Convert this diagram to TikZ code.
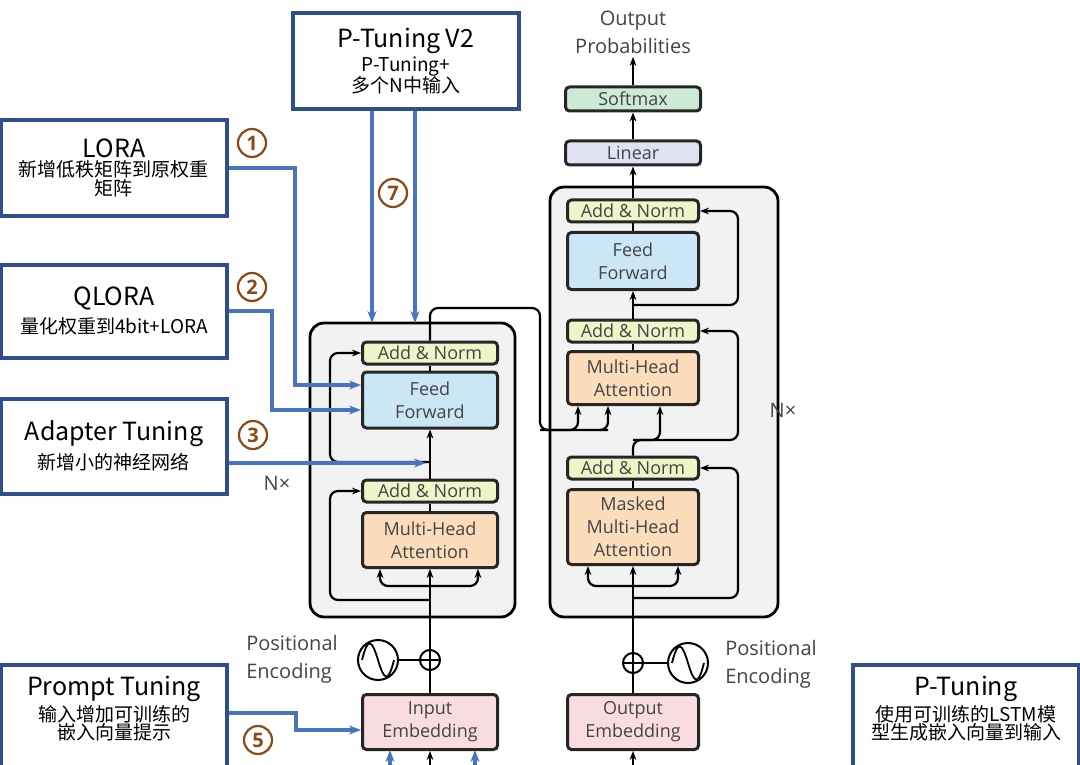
\documentclass[tikz,border=0pt]{standalone}
\usepackage{fontspec}
\setmainfont{Noto Sans CJK SC}
\setsansfont{Open Sans}
\usetikzlibrary{arrows.meta,positioning}
\definecolor{boxblue}{HTML}{2F4E8C}
\definecolor{arrblue}{HTML}{4A74C0}
\definecolor{numbrown}{HTML}{8B4A14}
\definecolor{cAN}{HTML}{EEF5C8}
\definecolor{cFF}{HTML}{CBE6F5}
\definecolor{cMHA}{HTML}{FBDDBB}
\definecolor{cEMB}{HTML}{F8DCE0}
\definecolor{cLIN}{HTML}{E1E1F4}
\definecolor{cSM}{HTML}{CDEAD6}
\definecolor{txtgray}{HTML}{444444}
\newcommand{\ttl}{\fontsize{25}{30}\selectfont}
\newcommand{\sub}{\fontsize{19}{28}\selectfont}
\tikzset{
  method/.style={draw=boxblue, line width=4pt, fill=white, align=center, inner sep=2pt},
  num/.style={circle, draw=numbrown, line width=2.2pt, text=numbrown, font=\sffamily\bfseries\fontsize{20}{20}\selectfont, inner sep=1pt, minimum size=28pt},
  blk/.style={draw=black!85, line width=3pt, rounded corners=4pt, align=center, text=txtgray, font=\sffamily\fontsize{18}{23}\selectfont, minimum width=135pt},
  an/.style={blk, fill=cAN, minimum height=22pt},
  lbl/.style={text=txtgray, font=\sffamily\fontsize{20}{28}\selectfont, align=left},
  flow/.style={line width=2.2pt, -{Stealth[length=9pt]}, rounded corners=8pt},
  plain/.style={line width=2.2pt, rounded corners=8pt},
  tune/.style={arrblue, line width=3.5pt, -{Stealth[length=12pt]}}
}
\begin{document}
\begin{tikzpicture}[x=1pt,y=-1pt]
\useasboundingbox[fill=white] (0,0) rectangle (1080,765);

% outer blocks
\draw[fill=black!5, line width=2.8pt, rounded corners=14pt] (310,323) rectangle (515,617);
\draw[fill=black!5, line width=2.8pt, rounded corners=14pt] (550,187) rectangle (778,617);
\node[lbl] (nxe) at (277,483) {N×};
\node[lbl] (nxd) at (783,410) {N×};

% encoder
\node[an] (ean2) at (430,353) {Add \& Norm};
\node[blk, fill=cFF, minimum height=56pt] (eff) at (430,400) {Feed\\Forward};
\node[an] (ean1) at (430,491) {Add \& Norm};
\node[blk, fill=cMHA, minimum height=55pt] (emha) at (430,540) {Multi-Head\\Attention};
\node[blk, fill=cEMB, minimum height=55pt] (emb) at (430,722) {Input\\Embedding};
\node[circle, draw, line width=2pt, minimum size=20pt, inner sep=0pt] (eplus) at (430,660) {};
\draw[line width=2pt] (eplus.north) -- (eplus.south) (eplus.west) -- (eplus.east);
\node[circle, draw, line width=2pt, minimum size=40pt] (esin) at (378,660) {};
\draw[line width=1.8pt] (362,660) .. controls (368,636) and (372,640) .. (378,660) .. controls (384,680) and (388,684) .. (394,660);
\draw[line width=2pt] (esin) -- (eplus);
\node[lbl] (epos) at (292,659) {Positional\\Encoding};

% decoder
\node[an, minimum width=131pt] (dan3) at (633,211) {Add \& Norm};
\node[blk, fill=cFF, minimum width=131pt, minimum height=57pt] (dff) at (633,261) {Feed\\Forward};
\node[an, minimum width=131pt] (dan2) at (633,331) {Add \& Norm};
\node[blk, fill=cMHA, minimum width=131pt, minimum height=53pt] (dmha) at (633,378) {Multi-Head\\Attention};
\node[an, minimum width=131pt] (dan1) at (633,468) {Add \& Norm};
\node[blk, fill=cMHA, minimum width=131pt, minimum height=75pt] (dmmha) at (633,527) {Masked\\Multi-Head\\Attention};
\node[blk, fill=cEMB, minimum width=131pt, minimum height=55pt] (demb) at (633,722) {Output\\Embedding};
\node[circle, draw, line width=2pt, minimum size=20pt, inner sep=0pt] (dplus) at (633,663) {};
\draw[line width=2pt] (dplus.north) -- (dplus.south) (dplus.west) -- (dplus.east);
\node[circle, draw, line width=2pt, minimum size=40pt] (dsin) at (688,663) {};
\draw[line width=1.8pt] (672,663) .. controls (678,639) and (682,643) .. (688,663) .. controls (694,683) and (698,687) .. (704,663);
\draw[line width=2pt] (dplus) -- (dsin);
\node[lbl] (dpos) at (771,664) {Positional\\Encoding};
\node[blk, fill=cLIN, minimum width=135pt, minimum height=24pt] (lin) at (633,153) {Linear};
\node[blk, fill=cSM, minimum width=135pt, minimum height=24pt] (soft) at (633,99) {Softmax};
\node[lbl, align=center] (outp) at (633,32) {Output\\Probabilities};

% encoder flow
\coordinate (ein) at (430,765);
\draw[flow] (ein) -- (emb.south);
\draw[plain] (emb.north) -- (eplus.south);
\draw[flow] (eplus.north) -- (emha.south);
\draw[flow] (430,586) -| ([xshift=-50pt]emha.south);
\draw[flow] (430,586) -| ([xshift=48pt]emha.south);
\draw[flow] (430,600) -| (330,491) -- (ean1.west);
\draw[plain] (emha.north) -- (ean1.south);
\draw[flow] (ean1.north) -- (eff.south);
\draw[flow] (430,462) -| (330,353) -- (ean2.west);
\draw[plain] (eff.north) -- (ean2.south);
\draw[plain] (ean2.north) |- (540,308) |- (608,430);
\draw[flow] (540,430) -| ([xshift=-55pt]dmha.south);
\draw[flow] (600,430) -| ([xshift=-25pt]dmha.south);

% decoder flow
\coordinate (din) at (633,765);
\draw[flow] (din) -- (demb.south);
\draw[plain] (demb.north) -- (dplus.south);
\draw[flow] (dplus.north) -- (dmmha.south);
\draw[flow] (633,586) -| ([xshift=-45pt]dmmha.south);
\draw[flow] (633,586) -| ([xshift=45pt]dmmha.south);
\draw[flow] (633,598) -| (738,468) -- (dan1.east);
\draw[plain] (dmmha.north) -- (dan1.south);
\draw[flow] (dan1.north) |- (660,440) -- ([xshift=27pt]dmha.south);
\draw[flow] (633,440) -| (738,331) -- (dan2.east);
\draw[plain] (dmha.north) -- (dan2.south);
\draw[flow] (dan2.north) -- (dff.south);
\draw[flow] (633,305) -| (738,211) -- (dan3.east);
\draw[plain] (dff.north) -- (dan3.south);
\draw[flow] (dan3.north) -- (lin.south);
\draw[flow] (lin.north) -- (soft.south);
\draw[flow] (soft.north) -- (outp.south);

% tuning methods
\node[method, minimum width=226pt, minimum height=96pt] (v2) at (406,61) {\ttl P-Tuning V2\\[2pt]\sub P-Tuning+\\\sub 多个N中输入};
\node[method, minimum width=226pt, minimum height=96pt] (lora) at (114,168) {\ttl LORA\\[2pt]\sub 新增低秩矩阵到原权重\\\sub 矩阵};
\node[method, minimum width=226pt, minimum height=93pt] (qlora) at (114,311) {\ttl QLORA\\[6pt]\sub 量化权重到4bit+LORA};
\node[method, minimum width=226pt, minimum height=95pt] (adapter) at (114,446) {\ttl Adapter Tuning\\[6pt]\sub 新增小的神经网络};
\node[method, minimum width=226pt, minimum height=110pt, anchor=north] (prompt) at (114,663) {\ttl Prompt Tuning\\[2pt]\sub 输入增加可训练的\\\sub 嵌入向量提示\\[12pt]};
\node[method, minimum width=226pt, minimum height=110pt, anchor=north] (ptun) at (966,663) {\ttl P-Tuning\\[2pt]\sub 使用可训练的LSTM模\\\sub 型生成嵌入向量到输入\\[12pt]};

\node[num] (n1) at (252,143) {1};
\node[num] (n2) at (252,287) {2};
\node[num] (n3) at (253,435) {3};
\node[num] (n7) at (393,193) {7};
\node[num] (n5) at (258,740) {5};

\draw[tune] (lora.east |- 0,168) -- (295,168) |- (eff.west |- 0,385);
\draw[tune] (qlora.east |- 0,311) -- (272,311) |- (eff.west |- 0,410);
\draw[tune] (adapter.east |- 0,463) -- (426,463);
\draw[tune] (v2.south -| 372,0) -- (372,323);
\draw[tune] (v2.south -| 415,0) -- (415,323);
\draw[tune] (prompt.east |- 0,713) -- (296,713) |- (emb.west |- 0,730);
\draw[tune] (390,765) -- (390,750);
\draw[tune] (475,765) -- (475,750);
\end{tikzpicture}
\end{document}
